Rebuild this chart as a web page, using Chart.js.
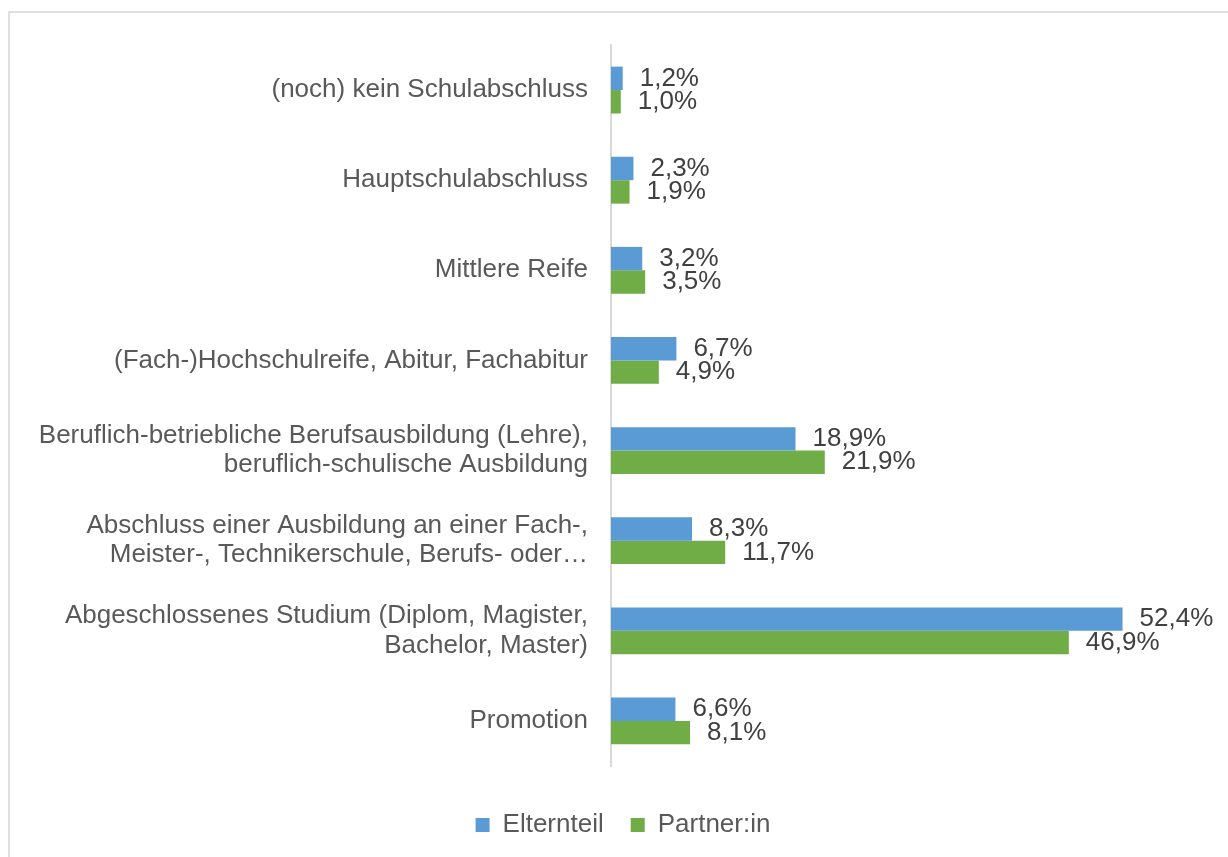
<!DOCTYPE html>
<html>
<head>
<meta charset="utf-8">
<script src="https://cdn.jsdelivr.net/npm/chart.js@4"></script>
<style>
  html, body { margin: 0; padding: 0; background: #fff; overflow: hidden; }
  #wrap { position: relative; width: 1228px; height: 866px; }
  #frame { position: absolute; left: 8px; top: 11px; width: 1240px; height: 880px; border: 2px solid #e0e0e0; box-sizing: border-box; }
  canvas { position: absolute; left: 0; top: 0; }
</style>
</head>
<body>
<div id="wrap">
  <div id="frame"></div>
  <canvas id="abschlussChart" width="1228" height="866"></canvas>
</div>
<script>
const categorias = [
  "(noch) kein Schulabschluss",
  "Hauptschulabschluss",
  "Mittlere Reife",
  "(Fach-)Hochschulreife, Abitur, Fachabitur",
  ["Beruflich-betriebliche Berufsausbildung (Lehre),", "beruflich-schulische Ausbildung"],
  ["Abschluss einer Ausbildung an einer Fach-,", "Meister-, Technikerschule, Berufs- oder\u2026"],
  ["Abgeschlossenes Studium (Diplom, Magister,", "Bachelor, Master)"],
  "Promotion",
];
const elternteil = [1.2, 2.3, 3.2, 6.7, 18.9, 8.3, 52.4, 6.6];
const partnerin = [1.0, 1.9, 3.5, 4.9, 21.9, 11.7, 46.9, 8.1];

// Werte rechts neben den Balken schreiben
const wertLabels = {
  id: "wertLabels",
  afterDatasetsDraw(chart) {
    const ctx = chart.ctx;
    ctx.save();
    ctx.font = "26px 'Liberation Sans', Arial, sans-serif";
    ctx.fillStyle = "#404040";
    ctx.textAlign = "left";
    ctx.textBaseline = "middle";
    chart.data.datasets.forEach((ds, i) => {
      chart.getDatasetMeta(i).data.forEach((bar, j) => {
        const txt = ds.data[j].toFixed(1).replace(".", ",") + "%";
        ctx.fillText(txt, bar.x + 17, bar.y);
      });
    });
    ctx.restore();
  },
};

const ctx = document.getElementById("abschlussChart").getContext("2d");
new Chart(ctx, {
  type: "bar",
  data: {
    labels: categorias,
    datasets: [
      {
        label: "Elternteil",
        data: elternteil,
        backgroundColor: "#5B9BD5",
        categoryPercentage: 0.52,
        barPercentage: 1.0,
      },
      {
        label: "Partner:in",
        data: partnerin,
        backgroundColor: "#70AD47",
        categoryPercentage: 0.52,
        barPercentage: 1.0,
      },
    ],
  },
  options: {
    indexAxis: "y",
    responsive: false,
    animation: false,
    layout: {
      padding: { top: 45, left: 20, right: 2, bottom: 18 },
    },
    scales: {
      x: {
        min: 0,
        max: 63,
        grid: { display: false, drawTicks: false },
        border: { display: false },
        ticks: { display: false },
        afterFit: (scale) => {
          scale.height = 19;
        },
      },
      y: {
        grid: { display: false, drawTicks: false },
        border: { display: true, color: "#d9d9d9", width: 2 },
        ticks: {
          color: "#595959",
          padding: 23,
          font: { family: "'Liberation Sans', Arial, sans-serif", size: 26, lineHeight: 1.12 },
        },
        afterFit: (scale) => {
          scale.width = 591;
        },
      },
    },
    plugins: {
      legend: {
        position: "bottom",
        labels: {
          color: "#595959",
          boxWidth: 14,
          boxHeight: 14,
          padding: 27,
          font: { family: "'Liberation Sans', Arial, sans-serif", size: 26 },
        },
      },
      tooltip: { enabled: false },
    },
  },
  plugins: [wertLabels],
});
</script>
</body>
</html>
